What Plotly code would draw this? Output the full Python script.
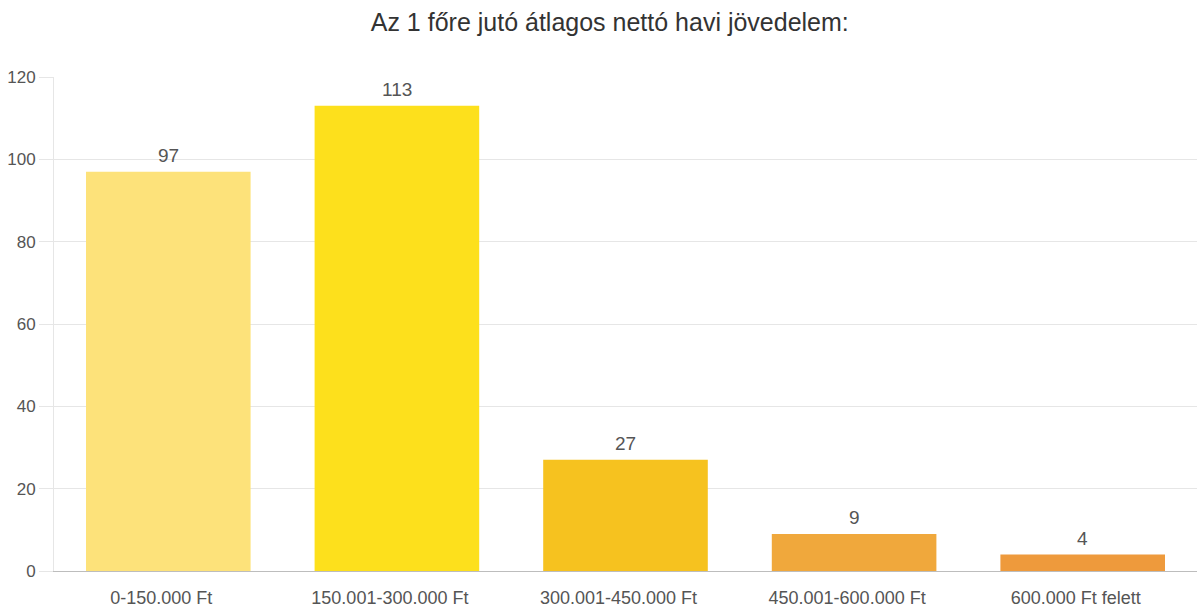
import plotly.graph_objects as go

categories = ["0-150.000 Ft", "150.001-300.000 Ft", "300.001-450.000 Ft",
              "450.001-600.000 Ft", "600.000 Ft felett"]
counts = [97, 113, 27, 9, 4]
bar_colors = ["#FDE27A", "#FDE01C", "#F6C21F", "#F0A83C", "#EE9A3C"]
y_ticks = [0, 20, 40, 60, 80, 100, 120]

font_family = "Liberation Sans, Arial, sans-serif"

fig = go.Figure(
    go.Bar(
        x=categories,
        y=counts,
        marker=dict(color=bar_colors, line=dict(width=0)),
        width=0.72,
        hoverinfo="x+y",
    )
)

# value labels above each bar
for cat, val in zip(categories, counts):
    fig.add_annotation(
        x=cat, y=val, text=str(val), showarrow=False,
        yanchor="bottom", yshift=4,
        font=dict(family=font_family, size=19, color="#555555"),
    )

fig.update_layout(
    width=1198, height=610,
    margin=dict(l=54, r=1, t=77, b=39),
    paper_bgcolor="white", plot_bgcolor="white",
    showlegend=False,
    bargap=0.28,
    title=dict(
        text="Az 1 főre jutó átlagos nettó havi jövedelem:",
        x=0.509, xanchor="center", y=0.963, yanchor="middle",
        font=dict(family=font_family, size=25, color="#333333"),
    ),
    font=dict(family=font_family, color="#555555"),
)

fig.update_xaxes(
    showgrid=False,
    showline=True, linecolor="#bdbdbd", linewidth=1,
    tickfont=dict(family=font_family, size=18, color="#555555"),
    ticks="outside", ticklen=10, tickcolor="rgba(0,0,0,0)",
    ticklabelshift=-7,
    fixedrange=True,
)

fig.update_yaxes(
    range=[0, 120],
    tickvals=y_ticks,
    showgrid=True, gridcolor="#e6e6e6", gridwidth=1,
    zeroline=False,
    showline=True, linecolor="#e6e6e6", linewidth=1,
    ticks="outside", ticklen=14, tickcolor="#e6e6e6",
    tickfont=dict(family=font_family, size=17, color="#555555"),
    fixedrange=True,
)

fig.write_html("out.html")
